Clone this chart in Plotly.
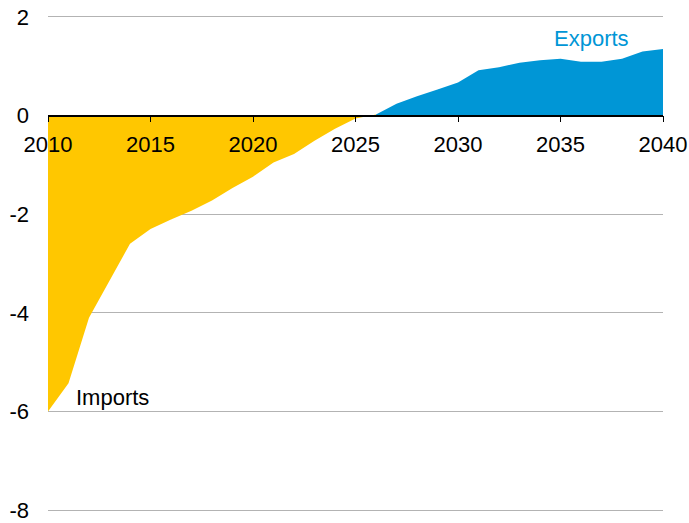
import plotly.graph_objects as go

years_imp = list(range(2010, 2027))
imports = [-6.0, -5.43, -4.10, -3.35, -2.60, -2.30, -2.11, -1.93, -1.72, -1.47,
           -1.24, -0.95, -0.78, -0.51, -0.27, -0.06, 0.02]

years_exp = list(range(2026, 2041))
exports = [0.02, 0.24, 0.39, 0.53, 0.67, 0.92, 0.98, 1.07, 1.12, 1.15,
           1.09, 1.09, 1.15, 1.30, 1.35]

y_ticks = [-8, -6, -4, -2, 0, 2]
y_labels = ["-8", "-6", "-4", "-2", "0", "2"]

yellow = "#FFC700"
blue = "#0096D6"

y_range = [-8.1, 2.1]
zero_pos = (0 - y_range[0]) / (y_range[1] - y_range[0])

fig = go.Figure()
fig.add_trace(go.Scatter(x=years_imp, y=imports, fill="tozeroy", mode="none",
                         fillcolor=yellow, showlegend=False))
fig.add_trace(go.Scatter(x=years_exp, y=exports, fill="tozeroy", mode="none",
                         fillcolor=blue, showlegend=False))

fig.add_annotation(x=2034.6, y=1.57, text="Exports", showarrow=False,
                   xanchor="left", font=dict(color=blue, size=22))
fig.add_annotation(x=2011.25, y=-5.71, text="Imports", showarrow=False,
                   xanchor="left", font=dict(color="black", size=22))

fig.update_layout(
    width=689, height=523,
    margin=dict(l=48, r=26, t=12, b=8),
    plot_bgcolor="white", paper_bgcolor="white",
    hovermode=False,
    font=dict(family="Liberation Sans, Arial", size=22, color="black"),
    xaxis=dict(range=[2010, 2040], tickvals=list(range(2010, 2041, 5)),
               showgrid=False, zeroline=False, showline=True, linecolor="black",
               linewidth=1.5, ticks="outside", ticklen=6, tickcolor="black",
               anchor="free", position=zero_pos, ticklabelstandoff=3,
               automargin=False, ticklabeloverflow="allow"),
    yaxis=dict(range=y_range, tickvals=y_ticks, ticktext=y_labels,
               showgrid=True, gridcolor="#b3b3b3", gridwidth=1,
               zeroline=False, showline=False, ticklabelstandoff=18,
               automargin=False, ticklabeloverflow="allow"),
)

# drop the browser's default 8px body margin so the figure sits at 0,0
fig.write_html("out.html", config={"displayModeBar": False},
               post_script="document.body.style.margin='0';")
